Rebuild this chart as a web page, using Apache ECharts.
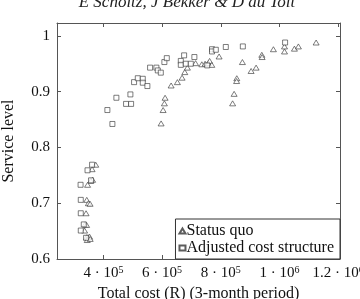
<!DOCTYPE html>
<html>
<head>
<meta charset="utf-8">
<script src="https://cdn.jsdelivr.net/npm/echarts@6/dist/echarts.min.js"></script>
<style>
  html, body { margin: 0; padding: 0; background: #fff; }
  #chart { width: 360px; height: 299px; }
</style>
</head>
<body>
<div id="chart"></div>
<script>
// 现状 (Status quo)
const statusQuoCost = [
  596600, 603400, 607800, 610200, 630700, 652100, 668100, 677300, 686200, 714100,
  735300, 746500, 757700, 761800, 769300, 794200, 873600, 854500, 853800, 845300,
  840200, 903200, 920200, 939700, 940700, 979200, 1017000, 1017000, 1050700, 1064300,
  1124700,
  374000, 361500, 363200, 357000, 346200, 343400, 348900, 354700, 341000, 337600,
  342800, 336000, 343000, 348000, 353000, 345000, 355000
];
const statusQuoLevel = [
  0.843, 0.867, 0.879, 0.889, 0.911, 0.917, 0.925, 0.935, 0.943, 0.951,
  0.949, 0.950, 0.951, 0.955, 0.948, 0.963, 0.953, 0.924, 0.919, 0.896,
  0.879, 0.937, 0.943, 0.966, 0.962, 0.976, 0.981, 0.972, 0.977, 0.981,
  0.988,
  0.769, 0.761, 0.742, 0.740, 0.733, 0.706, 0.700, 0.699, 0.682, 0.662,
  0.661, 0.651, 0.639, 0.639, 0.640, 0.634, 0.636
];

// 调整后的成本结构 (Adjusted cost structure)
const adjustedCost = [
  430700, 413600, 444300, 477300, 494400, 492000, 504600, 517200, 534200, 534200,
  549900, 559100, 580600, 585300, 595600, 607800, 616000, 675000, 663700, 663700,
  680700, 697800, 710000, 753700, 770000, 770000, 783000, 817000, 875000, 1019000,
  361500, 346000, 358000, 322300, 323000, 323000, 333200, 323000, 341000
];
const adjustedLevel = [
  0.842, 0.867, 0.889, 0.878, 0.878, 0.895, 0.917, 0.924, 0.923, 0.916,
  0.910, 0.943, 0.943, 0.938, 0.934, 0.953, 0.960, 0.965, 0.955, 0.948,
  0.950, 0.950, 0.962, 0.947, 0.976, 0.972, 0.975, 0.980, 0.981, 0.988,
  0.769, 0.759, 0.741, 0.733, 0.706, 0.682, 0.662, 0.651, 0.638
];

const xTicks = [400000, 600000, 800000, 1000000, 1200000];
const yTicks = [0.6, 0.7, 0.8, 0.9, 1];

const serif = 'Liberation Serif';
const axisColor = '#555';

// 把 4e5 写成 4 · 10^5
function sciLabel(v) {
  const exp = Math.floor(Math.log10(v));
  const mant = +(v / Math.pow(10, exp)).toFixed(2);
  return '{m|' + mant + ' · 10}{e|' + exp + '}';
}

function pairs(xs, ys) {
  return xs.map((x, i) => [x, ys[i]]);
}

const markStyle = {
  color: '#fff',
  borderColor: '#333',
  borderWidth: 0.8,
};

const myChart = echarts.init(document.getElementById('chart'), null, { renderer: 'canvas' });

const option = {
  animation: false,
  backgroundColor: '#fff',
  textStyle: { fontFamily: serif },
  graphic: [
    {
      type: 'text',
      x: 187,
      y: 11,
      style: {
        text: 'E Scholtz, J Bekker & D du Toit',
        font: 'italic 17px "Liberation Serif"',
        fill: '#222',
        align: 'center',
        verticalAlign: 'bottom',
      },
    },
  ],
  grid: { left: 57, right: 20, top: 23, bottom: 40, outerBoundsMode: 'none', containLabel: false },
  legend: {
    orient: 'vertical',
    right: 20,
    bottom: 40,
    backgroundColor: '#fff',
    borderColor: '#333',
    borderWidth: 1,
    padding: [4, 6, 3, 3],
    itemGap: 1,
    itemWidth: 6,
    itemHeight: 5,
    textStyle: { fontFamily: serif, fontSize: 16, color: '#111', padding: [0, 0, 0, -4] },
    data: [
      { name: 'Status quo', icon: 'triangle' },
      { name: 'Adjusted cost structure', icon: 'rect' },
    ],
  },
  xAxis: [
    {
      type: 'value',
      min: 242000,
      max: 1206000,
      name: 'Total cost (R) (3-month period)',
      nameLocation: 'middle',
      nameGap: 22,
      nameTextStyle: { fontFamily: serif, fontSize: 16, color: '#111' },
      axisLine: { show: true, lineStyle: { color: axisColor, width: 1 } },
      axisTick: { show: true, inside: true, length: 4, customValues: xTicks, lineStyle: { color: axisColor } },
      splitLine: { show: false },
      axisLabel: {
        customValues: xTicks,
        margin: 6,
        color: '#111',
        formatter: v => sciLabel(v),
        rich: {
          m: { fontFamily: serif, fontSize: 15, color: '#111' },
          e: { fontFamily: serif, fontSize: 10, color: '#111', verticalAlign: 'top', padding: [0, 0, 7, 0] },
        },
      },
    },
    {
      type: 'value',
      position: 'top',
      min: 242000,
      max: 1206000,
      axisLine: { show: true, lineStyle: { color: axisColor, width: 1 } },
      axisTick: { show: true, inside: true, length: 4, customValues: xTicks, lineStyle: { color: axisColor } },
      axisLabel: { show: false },
      splitLine: { show: false },
    },
  ],
  yAxis: [
    {
      type: 'value',
      min: 0.6,
      max: 1.023,
      name: 'Service level',
      nameLocation: 'middle',
      nameGap: 40,
      nameTextStyle: { fontFamily: serif, fontSize: 16, color: '#111' },
      axisLine: { show: true, lineStyle: { color: axisColor, width: 1 } },
      axisTick: { show: true, inside: true, length: 4, customValues: yTicks, lineStyle: { color: axisColor } },
      splitLine: { show: false },
      axisLabel: {
        customValues: yTicks,
        margin: 7,
        fontFamily: serif,
        fontSize: 15,
        color: '#111',
        formatter: v => String(+v.toFixed(1)),
      },
    },
    {
      type: 'value',
      position: 'right',
      min: 0.6,
      max: 1.023,
      axisLine: { show: true, lineStyle: { color: axisColor, width: 1 } },
      axisTick: { show: true, inside: true, length: 4, customValues: yTicks, lineStyle: { color: axisColor } },
      axisLabel: { show: false },
      splitLine: { show: false },
    },
  ],
  series: [
    {
      name: 'Status quo',
      type: 'scatter',
      symbol: 'triangle',
      symbolSize: [6, 5],
      itemStyle: markStyle,
      data: pairs(statusQuoCost, statusQuoLevel),
    },
    {
      name: 'Adjusted cost structure',
      type: 'scatter',
      symbol: 'rect',
      symbolSize: 5,
      itemStyle: markStyle,
      data: pairs(adjustedCost, adjustedLevel),
    },
  ],
};

myChart.setOption(option);
</script>
</body>
</html>
